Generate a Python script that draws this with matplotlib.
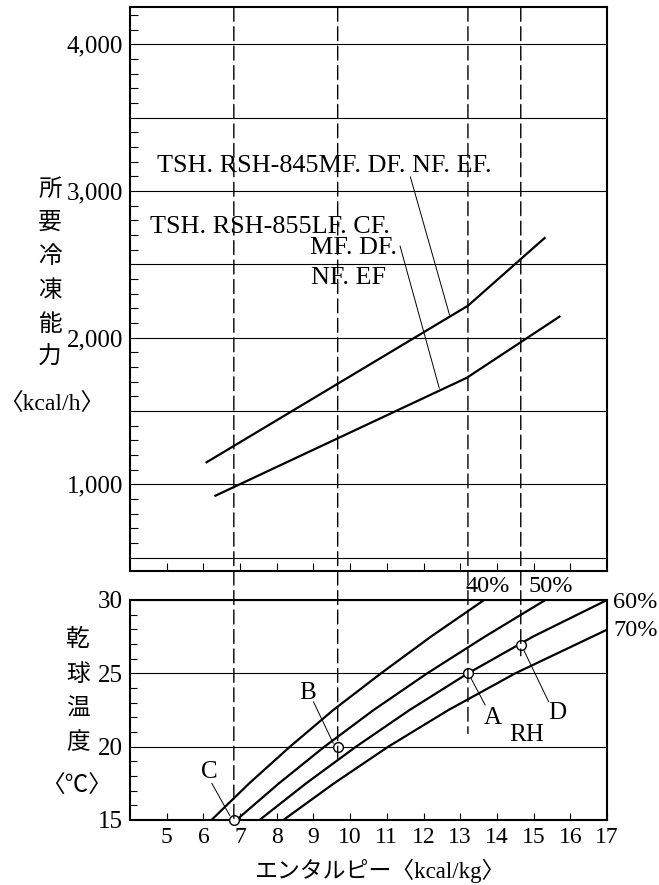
import matplotlib
matplotlib.use("Agg")
import matplotlib.pyplot as plt
from matplotlib.ticker import MultipleLocator, FixedLocator
from matplotlib.patches import ConnectionPatch

# ---------------- data ----------------
# upper chart: required refrigerating capacity vs enthalpy
h_845 = [6.06, 13.21, 15.32]
q_845 = [1147, 2218, 2684]
h_855 = [6.30, 13.18, 15.73]
q_855 = [920, 1727, 2148]

# lower chart: dry-bulb temperature vs enthalpy for RH lines
t_rh = [15, 17.5, 20, 22.5, 25, 27.5, 30]
h_rh40 = [6.22, 7.25, 8.36, 9.54, 10.84, 12.20, 13.65]
h_rh50 = [6.90, 8.06, 9.30, 10.64, 12.10, 13.67, 15.32]
h_rh60 = [7.53, 8.80, 10.16, 11.62, 13.21, 14.98, 17.00]
t_rh70 = [15, 17.5, 20, 22.5, 25, 27.5, 27.95]
h_rh70 = [8.18, 9.56, 11.04, 12.68, 14.50, 16.60, 16.98]

# design points
pt_names = ["C", "B", "A", "D"]
pt_h = [6.83, 9.66, 13.21, 14.65]
pt_t = [15.0, 20.0, 25.0, 26.9]
dash_end_t = [15.0, 18.9, 20.9, 26.2]

q_ticks = [1000, 2000, 3000, 4000]
q_ticklabels = ["1,000", "2,000", "3,000", "4,000"]
t_ticks = [15, 20, 25, 30]
x_ticks = list(range(5, 18))

# ---------------- style ----------------
W, H = 659, 885
FONT = ["Liberation Serif", "Noto Sans CJK JP"]
plt.rcParams["font.family"] = FONT
plt.rcParams["lines.scale_dashes"] = False

fig = plt.figure(figsize=(W / 100, H / 100), dpi=100)
fig.patch.set_facecolor("white")


def fx(px):
    return px / W


def fy(py):
    return 1 - py / H


ax1 = fig.add_axes([fx(130), fy(571), 477 / W, (571 - 7.3) / H])
ax2 = fig.add_axes([fx(130), fy(820), 477 / W, 220 / H])

for ax in (ax1, ax2):
    for s in ax.spines.values():
        s.set_linewidth(1.5)
    ax.set_xlim(4, 17)

# ---- top axes ----
grid_q = [500 * i for i in range(1, 9)]
ax1.set_ylim(410, 4252)
ax1.yaxis.set_major_locator(FixedLocator(grid_q))
ax1.set_yticklabels([q_ticklabels[q_ticks.index(v)] if v in q_ticks else ""
                     for v in grid_q], fontsize=18)
ax1.yaxis.set_minor_locator(MultipleLocator(100))
ax1.tick_params(axis="y", which="major", length=0, pad=5)
ax1.tick_params(axis="y", which="minor", direction="in", length=6, width=0.8)
ax1.grid(axis="y", which="major", color="black", linewidth=0.8)
ax1.set_xticks(x_ticks[:-1])
ax1.tick_params(axis="x", which="major", direction="in", length=5.5, width=0.8,
                labelbottom=False)

ax1.plot(h_845, q_845, color="black", linewidth=1.6, solid_capstyle="butt")
ax1.plot(h_855, q_855, color="black", linewidth=1.6, solid_capstyle="butt")

# leaders for the model labels
ax1.annotate("", xy=(12.71, 2154), xytext=(11.64, 3097),
             arrowprops=dict(arrowstyle="-", lw=0.7, color="black",
                             shrinkA=0, shrinkB=0))
ax1.annotate("", xy=(12.43, 1655), xytext=(11.36, 2625),
             arrowprops=dict(arrowstyle="-", lw=0.7, color="black",
                             shrinkA=0, shrinkB=0))

# ---- bottom axes ----
ax2.set_ylim(15, 30)
ax2.set_yticks(t_ticks)
ax2.set_yticklabels([str(v) for v in t_ticks], fontsize=18)
ax2.yaxis.set_minor_locator(MultipleLocator(1))
ax2.tick_params(axis="y", which="major", length=0, pad=5)
ax2.tick_params(axis="y", which="minor", direction="in", length=5, width=0.8)
ax2.grid(axis="y", which="major", color="black", linewidth=0.8)
ax2.set_xticks(x_ticks)
ax2.set_xticklabels([str(v) for v in x_ticks], fontsize=17)
ax2.tick_params(axis="x", which="major", direction="in", length=5, width=0.8, pad=5)

for hh, tt in ((h_rh40, t_rh), (h_rh50, t_rh), (h_rh60, t_rh), (h_rh70, t_rh70)):
    ax2.plot(hh, tt, color="black", linewidth=1.6, solid_capstyle="butt",
             solid_joinstyle="round")

ax2.plot(pt_h, pt_t, linestyle="none", marker="o", markersize=7,
         markerfacecolor="white", markeredgecolor="black", markeredgewidth=1.0,
         clip_on=False, zorder=5)

# leaders to the point labels
leaders = {"C": ((6.72, 15.3), (6.23, 17.5)),
           "B": ((9.54, 20.23), (9.00, 23.06)),
           "A": ((13.27, 24.77), (13.68, 22.84)),
           "D": ((14.73, 26.59), (15.41, 23.06))}
for name in pt_names:
    p, t = leaders[name]
    ax2.annotate("", xy=p, xytext=t,
                 arrowprops=dict(arrowstyle="-", lw=0.7, color="black",
                                 shrinkA=0, shrinkB=0), annotation_clip=False)

# dashed verticals running through both charts
for hx, te in zip(pt_h, dash_end_t):
    con = ConnectionPatch(xyA=(hx, ax1.get_ylim()[1]), coordsA=ax1.transData,
                          xyB=(hx, te), coordsB=ax2.transData,
                          color="black", linewidth=1.0, linestyle=(0, (10, 4)))
    fig.add_artist(con)

# ---------------- texts ----------------
def ftext(px, py, s, size=17, ha="center", va="center", **kw):
    fig.text(fx(px), fy(py), s, fontsize=size, ha=ha, va=va, family=FONT, **kw)


for ch, py in zip("所要冷凍能力", [190, 223, 257, 291, 325, 358]):
    ftext(50, py, ch, size=17)
ftext(52, 405, "〈kcal/h〉", size=17)

for ch, py in zip("乾球温度", [640, 675, 710, 743]):
    ftext(78, py, ch, size=17)
ftext(77, 787, "〈℃〉", size=17)

ftext(379, 871, "エンタルピー〈kcal/kg〉", size=16.5)

ftext(157, 166, "TSH. RSH-845MF. DF. NF. EF.", size=18.8, ha="left")
ftext(150, 227, "TSH. RSH-855LF. CF.", size=18.8, ha="left")
ftext(310, 248, "MF. DF.", size=18.8, ha="left")
ftext(311, 278, "NF. EF", size=18.8, ha="left")

ftext(465, 587, "40%", size=17.5, ha="left")
ftext(528, 587, "50%", size=17.5, ha="left")
ftext(613, 602, "60%", size=17.5, ha="left")
ftext(613, 631, "70%", size=17.5, ha="left")

ftext(209, 772, "C", size=18)
ftext(308, 693, "B", size=18)
ftext(493, 718, "A", size=18)
ftext(557, 713, "D", size=18)
ftext(527, 735, "RH", size=18)

fig.savefig("out.png", dpi=100, facecolor="white")
